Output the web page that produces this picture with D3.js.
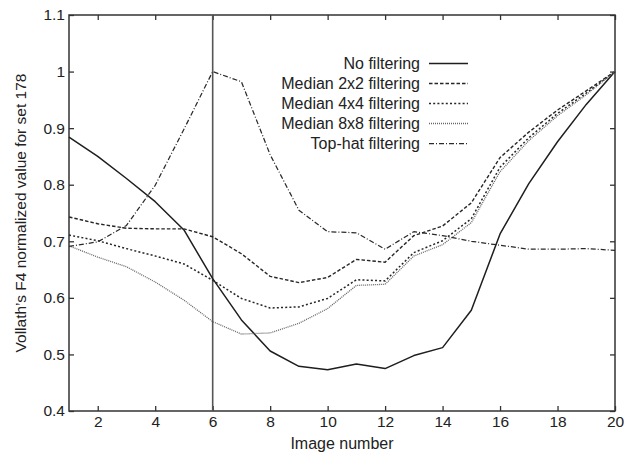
<!DOCTYPE html>
<html>
<head>
<meta charset="utf-8">
<script src="https://cdn.jsdelivr.net/npm/d3@7"></script>
<style>
  html, body { margin: 0; padding: 0; background: #fff; }
  svg { display: block; font-family: "Liberation Sans", Arial, sans-serif; }
</style>
</head>
<body>
<svg id="chart" width="632" height="452"></svg>
<script>
// Image index along the focus series
const imageNumbers = d3.range(1, 21);

// Normalized Vollath F4 values per filtering method
const noFiltering = [0.884, 0.850, 0.811, 0.770, 0.720, 0.634, 0.561, 0.506, 0.479, 0.473,
                     0.483, 0.475, 0.498, 0.512, 0.578, 0.713, 0.802, 0.876, 0.942, 1.000];
const median2x2   = [0.743, 0.731, 0.723, 0.722, 0.722, 0.708, 0.678, 0.638, 0.627, 0.636,
                     0.668, 0.663, 0.710, 0.727, 0.768, 0.848, 0.893, 0.932, 0.966, 1.000];
const median4x4   = [0.711, 0.701, 0.687, 0.674, 0.660, 0.631, 0.599, 0.582, 0.584, 0.599,
                     0.632, 0.630, 0.680, 0.701, 0.740, 0.831, 0.883, 0.926, 0.962, 1.000];
const median8x8   = [0.692, 0.672, 0.655, 0.628, 0.596, 0.558, 0.536, 0.538, 0.555, 0.581,
                     0.622, 0.624, 0.674, 0.694, 0.733, 0.823, 0.878, 0.922, 0.959, 1.000];
const topHat      = [0.691, 0.699, 0.728, 0.799, 0.898, 1.000, 0.982, 0.853, 0.755, 0.717,
                     0.715, 0.686, 0.717, 0.710, 0.700, 0.693, 0.686, 0.686, 0.687, 0.684];

const seriesNames = ["No filtering", "Median 2x2 filtering", "Median 4x4 filtering",
                     "Median 8x8 filtering", "Top-hat filtering"];
const seriesValues = [noFiltering, median2x2, median4x4, median8x8, topHat];

const xTicks = [2, 4, 6, 8, 10, 12, 14, 16, 18, 20];
const yTicks = [0.4, 0.5, 0.6, 0.7, 0.8, 0.9, 1.0, 1.1];
const markedImage = 6;

const xLabel = "Image number";
const yLabel = "Vollath\u2019s F4 normalized value for set 178";

// Stroke styles per series
const styles = [
  { color: "#1e1e1e", width: 1.5, dash: null },
  { color: "#262626", width: 1.4, dash: "3.5,2" },
  { color: "#262626", width: 1.5, dash: "2,2.2" },
  { color: "#666666", width: 1.3, dash: "1,1" },
  { color: "#2a2a2a", width: 1.25, dash: "5,2,1,2" }
];

const svg = d3.select("#chart");
const W = 632, H = 452;
const m = { left: 69, right: W - 615, top: 15, bottom: H - 411 };

const x = d3.scaleLinear().domain([1, 20]).range([m.left, W - m.right]);
const y = d3.scaleLinear().domain([0.4, 1.1]).range([H - m.bottom, m.top]);

svg.append("rect").attr("width", W).attr("height", H).attr("fill", "#fff");

const axisColor = "#333";
const tickFont = "15.5px";

// Bottom and top axes with inward ticks
const gx = svg.append("g").attr("transform", `translate(0,${y(0.4)})`)
  .call(d3.axisBottom(x).tickValues(xTicks).tickFormat(d3.format("d"))
        .tickSizeInner(-5).tickSizeOuter(0).tickPadding(5));
const gxTop = svg.append("g").attr("transform", `translate(0,${y(1.1)})`)
  .call(d3.axisTop(x).tickValues(xTicks).tickFormat("")
        .tickSizeInner(-5).tickSizeOuter(0));

// Left and right axes with inward ticks
const gy = svg.append("g").attr("transform", `translate(${x(1)},0)`)
  .call(d3.axisLeft(y).tickValues(yTicks).tickFormat(d => d === 1 ? "1" : d3.format(".1f")(d))
        .tickSizeInner(-5).tickSizeOuter(0).tickPadding(4));
const gyRight = svg.append("g").attr("transform", `translate(${x(20)},0)`)
  .call(d3.axisRight(y).tickValues(yTicks).tickFormat("")
        .tickSizeInner(-5).tickSizeOuter(0));

[gx, gxTop, gy, gyRight].forEach(g => {
  g.select(".domain").remove();
  g.selectAll("line").attr("stroke", axisColor).attr("stroke-width", 1.3);
  g.selectAll("text").attr("fill", "#222").style("font-size", tickFont)
    .style("font-family", "'Liberation Sans', Arial, sans-serif");
});

// Frame around the plot
svg.append("rect")
  .attr("x", x(1)).attr("y", y(1.1))
  .attr("width", x(20) - x(1)).attr("height", y(0.4) - y(1.1))
  .attr("fill", "none").attr("stroke", axisColor).attr("stroke-width", 1.5);

// Vertical marker at the selected image
svg.append("line")
  .attr("x1", x(markedImage)).attr("x2", x(markedImage))
  .attr("y1", y(1.1)).attr("y2", y(0.4))
  .attr("stroke", "#555").attr("stroke-width", 1.6);

// Series lines
const line = d3.line().x((d, i) => x(imageNumbers[i])).y(d => y(d));
seriesValues.forEach((vals, i) => {
  const s = styles[i];
  svg.append("path").datum(vals)
    .attr("d", line)
    .attr("fill", "none")
    .attr("stroke", s.color)
    .attr("stroke-width", s.width)
    .attr("stroke-linejoin", "round")
    .attr("stroke-dasharray", s.dash);
});

// Legend: right-aligned labels with line samples
const legend = svg.append("g");
seriesNames.forEach((name, i) => {
  const cy = 63.5 + i * 20;
  const s = styles[i];
  legend.append("text")
    .attr("x", 420).attr("y", cy).attr("dy", "0.35em")
    .attr("text-anchor", "end")
    .attr("fill", "#222")
    .style("font-size", "16px")
    .text(name);
  legend.append("line")
    .attr("x1", 429).attr("x2", 468)
    .attr("y1", cy).attr("y2", cy)
    .attr("stroke", s.color).attr("stroke-width", s.width)
    .attr("stroke-dasharray", s.dash);
});

// Axis titles
svg.append("text")
  .attr("x", (x(1) + x(20)) / 2).attr("y", 443).attr("dy", "0.35em")
  .attr("text-anchor", "middle").attr("fill", "#222")
  .style("font-size", "16px")
  .text(xLabel);

svg.append("text")
  .attr("transform", `translate(21,${(y(0.4) + y(1.1)) / 2}) rotate(-90)`)
  .attr("dy", "0.35em")
  .attr("text-anchor", "middle").attr("fill", "#222")
  .style("font-size", "15.5px")
  .text(yLabel);
</script>
</body>
</html>
